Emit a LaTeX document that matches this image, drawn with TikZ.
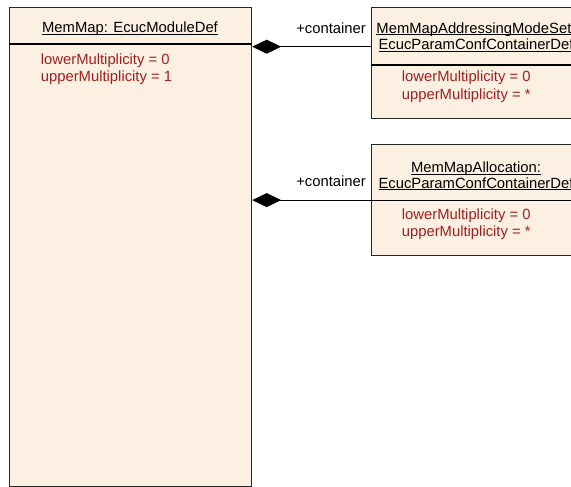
\documentclass[tikz,border=0pt]{standalone}
\usepackage{fontspec}
\setmainfont{Liberation Sans}
\usetikzlibrary{arrows.meta}

\definecolor{classfill}{RGB}{251,240,225}
\definecolor{attrred}{RGB}{160,32,32}

% underlined class name, rule just under the baseline
\newcommand{\ulname}[1]{\setbox0\hbox{#1}\rlap{\rule[-2pt]{\wd0}{0.9pt}}\box0}

\begin{document}
\begin{tikzpicture}[x=1pt,y=-1pt,
  classbox/.style={draw=black!85, fill=classfill, line width=1.2pt, anchor=north west, inner sep=0pt},
  txt/.style={anchor=base, inner sep=0pt, font=\fontsize{14.8}{17}\selectfont},
  attr/.style={txt, anchor=base west, text=attrred},
  composition/.style={line width=1.2pt, -{Diamond[length=29pt,width=14pt]}}]
  \useasboundingbox (0,0) rectangle (571,487);
  \clip (0,0) rectangle (571,487);
  \fill[white] (0,0) rectangle (571,487);

  % module
  \node[classbox, minimum width=242pt, minimum height=479pt] (mod) at (9,7) {};
  \draw[line width=1.2pt] ([yshift=-37pt]mod.north west) -- ([yshift=-37pt]mod.north east);
  \node[txt] (modname) at (130,32.7) {\ulname{MemMap: EcucModuleDef}};
  \node[attr] (modlower) at (40.7,64.5) {lowerMultiplicity = 0};
  \node[attr] (modupper) at (40.7,81.5) {upperMultiplicity = 1};

  % addressing mode set container
  \node[classbox, minimum width=210pt, minimum height=111pt] (addr) at (371,7) {};
  \draw[line width=1.2pt] ([yshift=-58pt]addr.north west) -- ([yshift=-58pt]addr.north east);
  \node[txt] (addrname) at (476,33.3) {\ulname{MemMapAddressingModeSet:}};
  \node[txt] (addrdef) at (476,50) {\ulname{EcucParamConfContainerDef}};
  \node[attr] (addrlower) at (401.7,82) {lowerMultiplicity = 0};
  \node[attr] (addrupper) at (401.7,99.5) {upperMultiplicity = *};

  % allocation container
  \node[classbox, minimum width=210pt, minimum height=111pt] (alloc) at (371,144) {};
  \draw[line width=1.2pt] ([yshift=-56.7pt]alloc.north west) -- ([yshift=-56.7pt]alloc.north east);
  \node[txt] (allocname) at (476,172.7) {\ulname{MemMapAllocation:}};
  \node[txt] (allocdef) at (476,188.3) {\ulname{EcucParamConfContainerDef}};
  \node[attr] (alloclower) at (401.7,219.3) {lowerMultiplicity = 0};
  \node[attr] (allocupper) at (401.7,236.7) {upperMultiplicity = *};

  % compositions
  \draw[composition] ([yshift=-39.7pt]addr.north west) -- ([yshift=-39.7pt]mod.north east);
  \draw[composition] (alloc.west) -- (mod.east |- alloc.west);
  \node[txt, anchor=base east] (role1) at (366,33.3) {+container};
  \node[txt, anchor=base east] (role2) at (366,186.7) {+container};
\end{tikzpicture}
\end{document}
